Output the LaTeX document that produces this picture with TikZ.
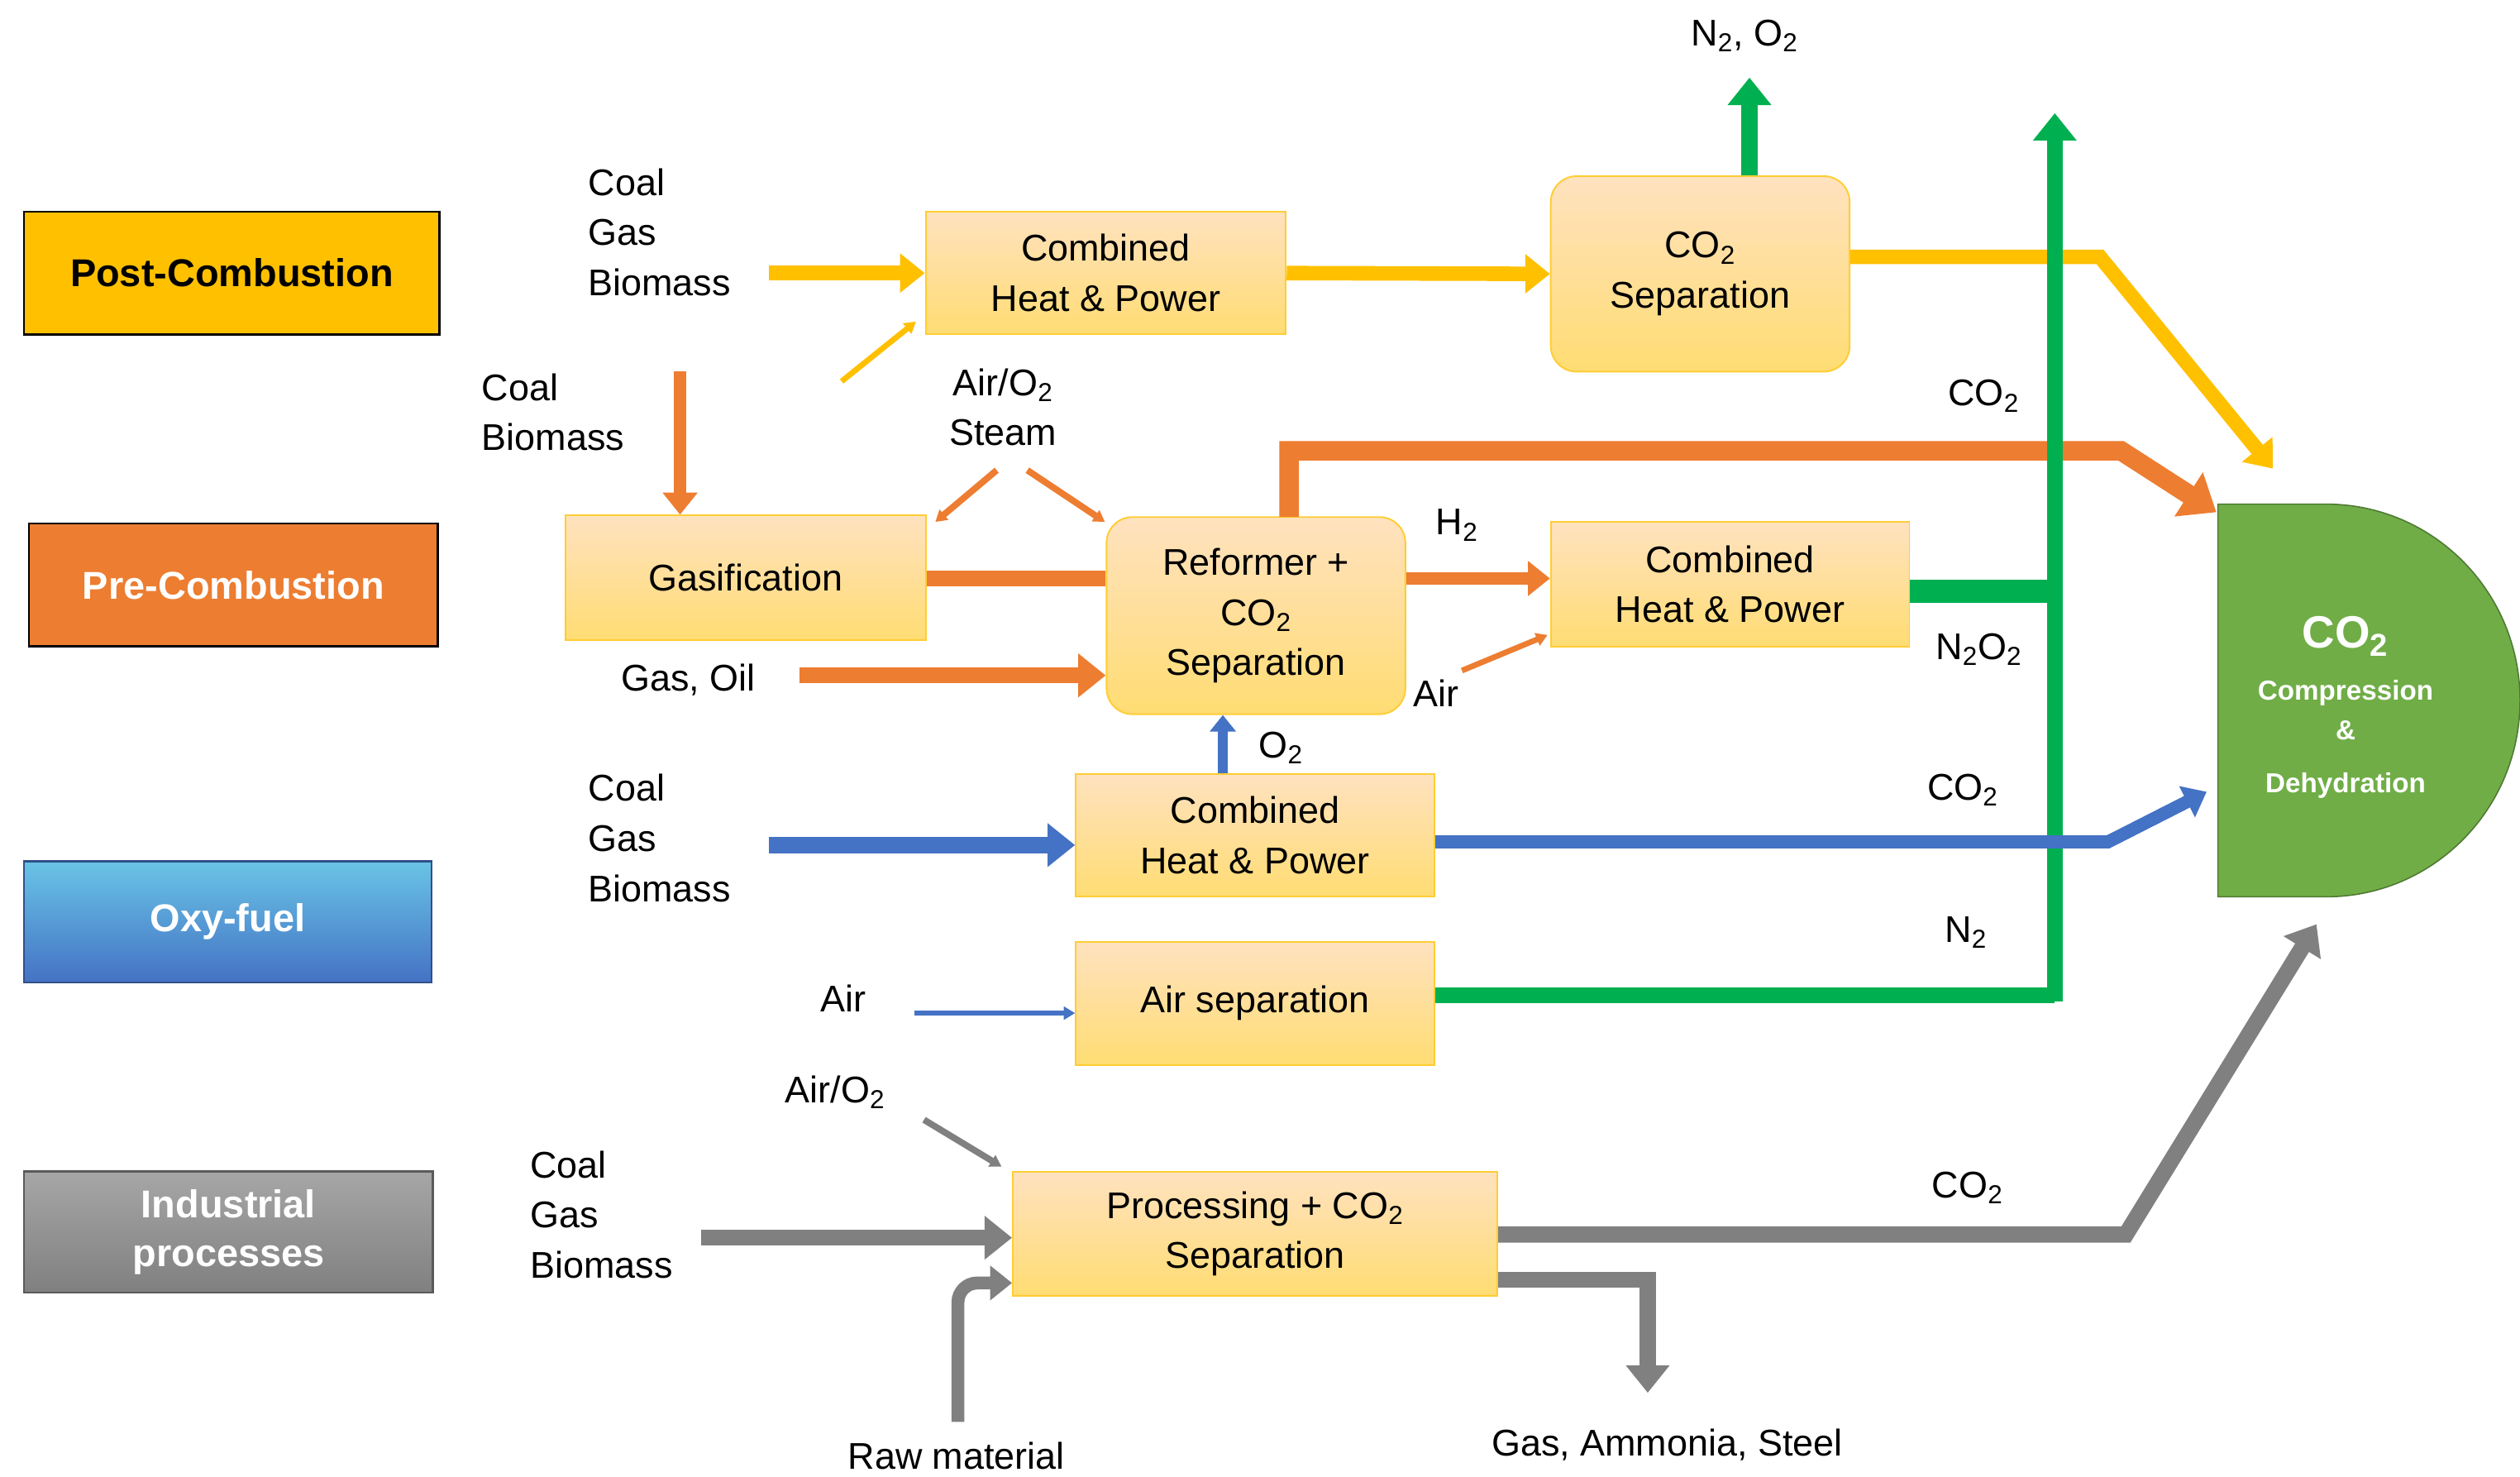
\documentclass[tikz,border=0pt]{standalone}
\usepackage{fontspec}
\setmainfont{Liberation Sans}
\usetikzlibrary{arrows.meta}
\definecolor{yel}{HTML}{FFC000}
\definecolor{ora}{HTML}{ED7D31}
\definecolor{grn}{HTML}{00B050}
\definecolor{blu}{HTML}{4472C4}
\definecolor{gry}{HTML}{808080}
\definecolor{lgrn}{HTML}{70AD47}
\begin{document}
\begin{tikzpicture}[x=1pt,y=-1pt,
  every node/.style={font=\fontsize{23}{31}\selectfont},
  proc/.style={draw=yel!80,line width=1pt,top color=yellow!8!orange!25!white,bottom color=yel!55,align=center,inner sep=0pt},
  lab/.style={draw=black,line width=1.2pt,font=\fontsize{24}{30}\selectfont\bfseries,align=center,inner sep=0pt},
  txt/.style={align=left,inner sep=0pt,anchor=north west},
  ctxt/.style={align=center,inner sep=0pt},
  arr/.style={-{Triangle[length=0pt 1.7,width=0pt 2.6]}},
  tarr/.style={-{Triangle[length=7pt,width=8pt]}}]
\useasboundingbox (0,0) rectangle (1560,914);
% left labels
\node[lab,fill=yel,minimum width=257pt,minimum height=76pt] (post) at (143.5,169) {Post-Combustion};
\node[lab,fill=ora,text=white,minimum width=253pt,minimum height=76pt] (pre) at (144.5,362) {Pre-Combustion};
\node[lab,draw=blu!70!black,top color=blu!60!cyan!70!white,bottom color=blu,text=white,minimum width=252pt,minimum height=75pt] (oxy) at (141,570.5) {Oxy-fuel};
\node[lab,draw=gry!70!black,top color=gry!70,bottom color=gry,text=white,minimum width=253pt,minimum height=75pt] (ind) at (141.5,762.5) {Industrial\\processes};
% process boxes
\node[proc,minimum width=223pt,minimum height=76pt] (chp1) at (684.5,169) {Combined\\Heat \& Power};
\node[proc,rounded corners=16pt,minimum width=185pt,minimum height=121pt] (sep) at (1052.5,169.5) {CO\textsubscript{2}\\Separation};
\node[proc,minimum width=223pt,minimum height=77pt] (gas) at (461.5,357.5) {Gasification};
\node[proc,rounded corners=16pt,minimum width=185pt,minimum height=122pt] (ref) at (777.5,381) {Reformer +\\CO\textsubscript{2}\\Separation};
\node[proc,minimum width=222pt,minimum height=77pt] (chp2) at (1071,361.5) {Combined\\Heat \& Power};
\node[proc,minimum width=222pt,minimum height=76pt] (chp3) at (777,517) {Combined\\Heat \& Power};
\node[proc,minimum width=222pt,minimum height=76pt] (asep) at (777,621) {Air separation};
\node[proc,minimum width=300pt,minimum height=77pt] (proc) at (777,763.5) {Processing + CO\textsubscript{2}\\Separation};
% compression D shape
\filldraw[fill=lgrn,draw=lgrn!70!black,line width=0.8pt] (1373,312) -- (1440,312) arc[start angle=90,end angle=-90,x radius=120pt,y radius=121.5pt] -- (1373,555) -- cycle;
\node[ctxt,text=white,font=\fontsize{28}{30}\selectfont\bfseries] (cc) at (1452,394) {CO\textsubscript{2}};
\node[ctxt,text=white,font=\fontsize{17}{20}\selectfont\bfseries] (cc1) at (1452,429) {Compression};
\node[ctxt,text=white,font=\fontsize{17}{20}\selectfont\bfseries] (cc2) at (1452,452) {\&};
\node[ctxt,text=white,font=\fontsize{17}{20}\selectfont\bfseries] (cc3) at (1452,486) {Dehydration};
% text labels
\node[txt] (t1) at (364,104) {Coal\\Gas\\Biomass};
\node[txt] (t2) at (298,231) {Coal\\Biomass};
\node[ctxt] (t3) at (621,252) {Air/O\textsubscript{2}\\Steam};
\node[ctxt] (t4) at (426,421) {Gas, Oil};
\node[ctxt] (t5) at (902,325) {H\textsubscript{2}};
\node[ctxt] (t6) at (889,429) {Air};
\node[ctxt] (t7) at (1225,402) {N\textsubscript{2}O\textsubscript{2}};
\node[ctxt] (t8) at (1228,245) {CO\textsubscript{2}};
\node[ctxt] (t9) at (793,463) {O\textsubscript{2}};
\node[ctxt] (t10) at (1215,489) {CO\textsubscript{2}};
\node[ctxt] (t11) at (1217,577) {N\textsubscript{2}};
\node[ctxt] (t12) at (1218,735) {CO\textsubscript{2}};
\node[ctxt] (t13) at (1080,22) {N\textsubscript{2}, O\textsubscript{2}};
\node[txt] (t14) at (364,479) {Coal\\Gas\\Biomass};
\node[ctxt] (t15) at (522,618) {Air};
\node[ctxt] (t16) at (517,676) {Air/O\textsubscript{2}};
\node[txt] (t17) at (328,712) {Coal\\Gas\\Biomass};
\node[ctxt] (t18) at (592,901) {Raw material};
\node[ctxt] (t19) at (1032,894) {Gas, Ammonia, Steel};
% coordinates
\coordinate (y1) at (476,169); \coordinate (y2) at (521,236); \coordinate (y3) at (567,199);
\coordinate (o1) at (421,230); \coordinate (o2) at (617,291); \coordinate (o3) at (579,323);
\coordinate (o4) at (636,291); \coordinate (o5) at (684,323); \coordinate (o6) at (495,418);
\coordinate (o7) at (905,415); \coordinate (o8) at (958,393);
\coordinate (gtop) at (1272,70); \coordinate (gbot) at (1272,620);
\coordinate (n1) at (1083,48);
\coordinate (b1) at (476,523); \coordinate (b2) at (566,627);
\coordinate (g1) at (434,766); \coordinate (g2) at (572,693); \coordinate (g3) at (620,722);
\coordinate (g4) at (593,880); \coordinate (g5) at (1020,862);
% yellow
\draw[yel,line width=9pt,arr] (y1) -- (chp1.west);
\draw[yel,line width=3.5pt,tarr] (y2) -- (y3);
\draw[yel,line width=9pt,arr] (chp1.east) -- (sep.west);
\draw[yel,line width=9pt,arr] (sep.east |- 0,159) -- (1300,159) -- (1407,290);
% orange
\draw[ora,line width=8pt,arr] (o1) -- (gas.north -| o1);
\draw[ora,line width=10pt] (gas.east |- 0,358) -- (ref.west |- 0,358);
\draw[ora,line width=4pt,tarr] (o2) -- (o3);
\draw[ora,line width=4pt,tarr] (o4) -- (o5);
\draw[ora,line width=10pt,arr] (o6) -- (ref.west |- o6);
\draw[ora,line width=12pt,arr] (798,320) -- (798,279) -- (1313,279) -- (1372,317);
\draw[ora,line width=8pt,arr] (ref.east |- 0,358) -- (chp2.west |- 0,358);
\draw[ora,line width=3.5pt,tarr] (o7) -- (o8);
% green
\draw[grn,line width=14pt] (chp2.east |- 0,366) -- (1272,366);
\draw[grn,line width=10pt] (asep.east |- 0,616) -- (1272,616);
\draw[grn,line width=10pt,arr] (gbot) -- (gtop);
\draw[grn,line width=10pt,arr] (sep.north -| n1) -- (n1);
% blue
\draw[blu,line width=10pt,arr] (b1) -- (chp3.west |- b1);
\draw[blu,line width=8pt,arr] (chp3.east |- 0,521) -- (1305,521) -- (1366,490);
\draw[blu,line width=6pt,arr] (chp3.north -| 757,0) -- (ref.south -| 757,0);
\draw[blu,line width=3pt,tarr] (b2) -- (asep.west |- b2);
% gray
\draw[gry,line width=10pt,arr] (g1) -- (proc.west |- g1);
\draw[gry,line width=4pt,tarr] (g2) -- (g3);
\draw[gry,line width=8pt,arr,rounded corners=12pt] (g4) -- (593,794) -- (proc.west |- 0,794);
\draw[gry,line width=10pt,arr] (proc.east |- 0,764) -- (1316,764) -- (1434,572);
\draw[gry,line width=10pt,arr] (proc.east |- 0,792) -- (1020,792) -- (g5);
\end{tikzpicture}
\end{document}
